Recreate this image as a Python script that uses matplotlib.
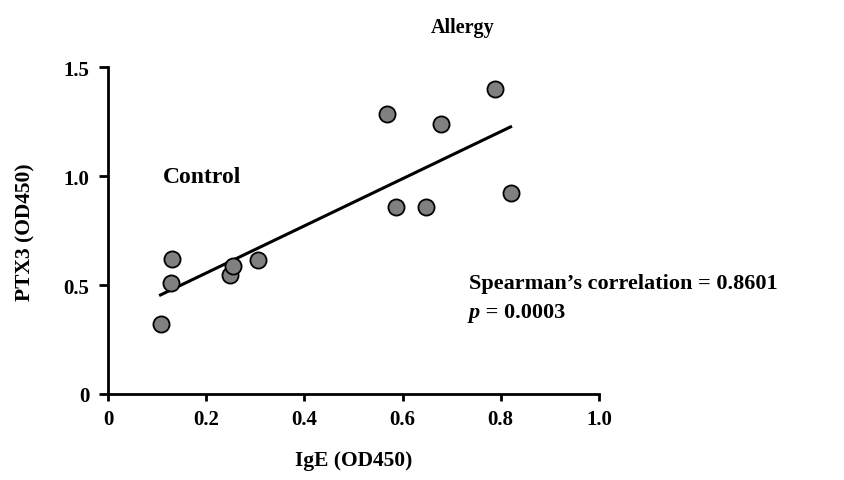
import numpy as np
import matplotlib.pyplot as plt

# values
ige = [0.107, 0.128, 0.130, 0.248, 0.255, 0.306, 0.568, 0.587, 0.647, 0.679, 0.788, 0.820]
ptx3 = [0.320, 0.511, 0.620, 0.547, 0.587, 0.614, 1.286, 0.858, 0.861, 1.242, 1.399, 0.922]
xticks = [0, 0.2, 0.4, 0.6, 0.8, 1.0]
xticklabels = ['0', '0.2', '0.4', '0.6', '0.8', '1.0']
yticks = [0, 0.5, 1.0, 1.5]
yticklabels = ['0', '0.5', '1.0', '1.5']

plt.rcParams['font.family'] = ['Liberation Serif', 'DejaVu Serif']
plt.rcParams['font.weight'] = 'bold'

fig = plt.figure(figsize=(8.45, 4.81), dpi=100)
ax = fig.add_axes([0.1278, 0.1788, 0.581, 0.679])

x = np.array(ige)
y = np.array(ptx3)
slope, icpt = np.polyfit(x, y, 1)
xl = np.array([x.min(), x.max()])
ax.plot(xl, slope * xl + icpt, color='black', lw=2.2, zorder=2)
ax.scatter(x, y, s=135, facecolor='#808080', edgecolor='black', linewidth=1.3, zorder=3)

ax.set_xlim(0, 1.0)
ax.set_ylim(0, 1.5)
ax.set_xticks(xticks)
ax.set_xticklabels(xticklabels, fontsize=15, fontweight='bold')
ax.set_yticks(yticks)
ax.set_yticklabels(yticklabels, fontsize=15, fontweight='bold')
for s in ['top', 'right']:
    ax.spines[s].set_visible(False)
for s in ['left', 'bottom']:
    ax.spines[s].set_linewidth(2)
ax.tick_params(axis='x', direction='out', length=5, width=2, pad=6)
ax.tick_params(axis='y', direction='out', length=6.5, width=2, pad=7)

ax.set_xlabel('IgE (OD450)', fontsize=15.5, fontweight='bold', labelpad=15)
ax.set_ylabel('PTX3 (OD450)', fontsize=15.5, fontweight='bold', labelpad=20)

fig.text(0.547, 0.942, 'Allergy', fontsize=14.5, fontweight='bold', ha='center', va='center')
ax.text(0.112, 1.0, 'Control', fontsize=17, fontweight='bold', va='center')
ax.text(0.735, 0.512, "Spearman\u2019s correlation = 0.8601", fontsize=16,
        fontweight='bold', va='center')
pt = ax.text(0.735, 0.375, 'p', fontsize=16, fontweight='bold', style='italic', va='center')
ax.annotate(' = 0.0003', xy=(1, 0), xycoords=pt, va='bottom', ha='left',
            fontsize=16, fontweight='bold')

fig.savefig('out.png', dpi=100)
